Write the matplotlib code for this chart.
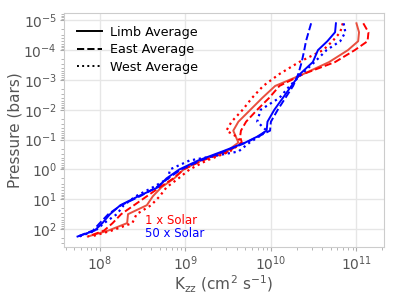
import numpy as np
import matplotlib
matplotlib.use('Agg')
import matplotlib.pyplot as plt

# Pressure levels (bars), common to all profiles
pressure = 10 ** np.array([-4.9, -4.6, -4.3, -4.0, -3.6, -3.2, -2.8, -2.4, -2.0, -1.6,
                           -1.3, -1.1, -0.9, -0.6, -0.3, 0.0, 0.3, 0.6, 0.9, 1.2,
                           1.5, 1.8, 2.05, 2.25])

# log10 Kzz (cm^2 s^-1)
kzz_1x_limb = [11.00, 11.03, 11.02, 10.90, 10.68, 10.38, 10.05, 9.90, 9.76, 9.62,
               9.56, 9.59, 9.62, 9.48, 9.18, 8.98, 8.87, 8.72, 8.62, 8.55,
               8.33, 8.32, 8.10, 7.86]
kzz_1x_east = [11.08, 11.14, 11.13, 10.98, 10.75, 10.38, 10.10, 9.98, 9.84, 9.71,
               9.65, 9.64, 9.66, 9.50, 9.20, 8.98, 8.86, 8.70, 8.55, 8.40,
               8.25, 8.15, 8.05, 7.86]
kzz_1x_west = [10.84, 10.81, 10.72, 10.61, 10.33, 10.10, 9.91, 9.78, 9.67, 9.54,
               9.48, 9.60, 9.66, 9.52, 9.25, 9.05, 8.92, 8.78, 8.70, 8.60,
               8.43, 8.38, 8.14, 7.90]
kzz_50x_limb = [10.76, 10.75, 10.66, 10.55, 10.49, 10.34, 10.24, 10.14, 10.04, 9.96,
                9.95, 9.84, 9.70, 9.43, 9.15, 8.93, 8.78, 8.68, 8.45, 8.24,
                8.12, 8.03, 7.94, 7.74]
kzz_50x_east = [10.47, 10.44, 10.41, 10.39, 10.36, 10.32, 10.26, 10.17, 10.08, 10.00,
                9.99, 9.85, 9.71, 9.45, 9.18, 8.95, 8.80, 8.66, 8.47, 8.25,
                8.10, 8.00, 7.92, 7.74]
kzz_50x_west = [10.85, 10.87, 10.81, 10.65, 10.51, 10.36, 10.22, 10.10, 9.88, 9.84,
                9.95, 9.86, 9.75, 9.62, 9.05, 8.82, 8.80, 8.62, 8.42, 8.28,
                8.20, 8.05, 7.95, 7.76]

x_ticks = [1e8, 1e9, 1e10, 1e11]
y_ticks = [1e-5, 1e-4, 1e-3, 1e-2, 1e-1, 1e0, 1e1, 1e2]

red_solid = '#e8503f'
gray = '#555555'

fig = plt.figure(figsize=(3.99, 2.99), dpi=100)
ax = fig.add_axes([0.160, 0.174, 0.802, 0.783])

ax.plot(10 ** np.array(kzz_1x_limb), pressure, color=red_solid, ls='-', lw=1.4)
ax.plot(10 ** np.array(kzz_1x_east), pressure, color='red', ls='--', lw=1.4)
ax.plot(10 ** np.array(kzz_1x_west), pressure, color='red', ls=':', lw=1.6)
ax.plot(10 ** np.array(kzz_50x_limb), pressure, color='blue', ls='-', lw=1.4)
ax.plot(10 ** np.array(kzz_50x_east), pressure, color='blue', ls='--', lw=1.4)
ax.plot(10 ** np.array(kzz_50x_west), pressure, color='blue', ls=':', lw=1.6)

# legend proxies
ax.plot([], [], color='black', ls='-', lw=1.4, label='Limb Average')
ax.plot([], [], color='black', ls='--', lw=1.4, label='East Average')
ax.plot([], [], color='black', ls=':', lw=1.4, label='West Average')
ax.legend(loc='upper left', frameon=False, fontsize=9.2, handlelength=2.0,
          labelspacing=0.35, borderaxespad=0.6, handletextpad=0.6)

ax.set_xscale('log')
ax.set_yscale('log')
ax.set_xticks(x_ticks)
ax.set_yticks(y_ticks)
ax.set_xlim(10 ** 7.58, 10 ** 11.32)
ax.set_ylim(10 ** 2.6, 10 ** -5.25)

ax.grid(True, which='major', color='#e6e6e6', lw=1)
ax.set_axisbelow(True)
for s in ax.spines.values():
    s.set_color('#cccccc')
ax.tick_params(which='both', colors='#aaaaaa', labelcolor=gray, labelsize=10, pad=2)
ax.tick_params(which='major', length=3)
ax.tick_params(which='minor', length=2)

ax.set_xlabel(r'K$_{\mathregular{zz}}$ (cm$^2$ s$^{-1}$)', color=gray, fontsize=11, labelpad=1)
ax.set_ylabel('Pressure (bars)', color=gray, fontsize=11, labelpad=1)

ax.text(0.253, 0.115, '1 x Solar', color='red', fontsize=8.5, transform=ax.transAxes,
        va='center')
ax.text(0.253, 0.058, '50 x Solar', color='blue', fontsize=8.5, transform=ax.transAxes,
        va='center')

plt.savefig('out.png', dpi=100)
